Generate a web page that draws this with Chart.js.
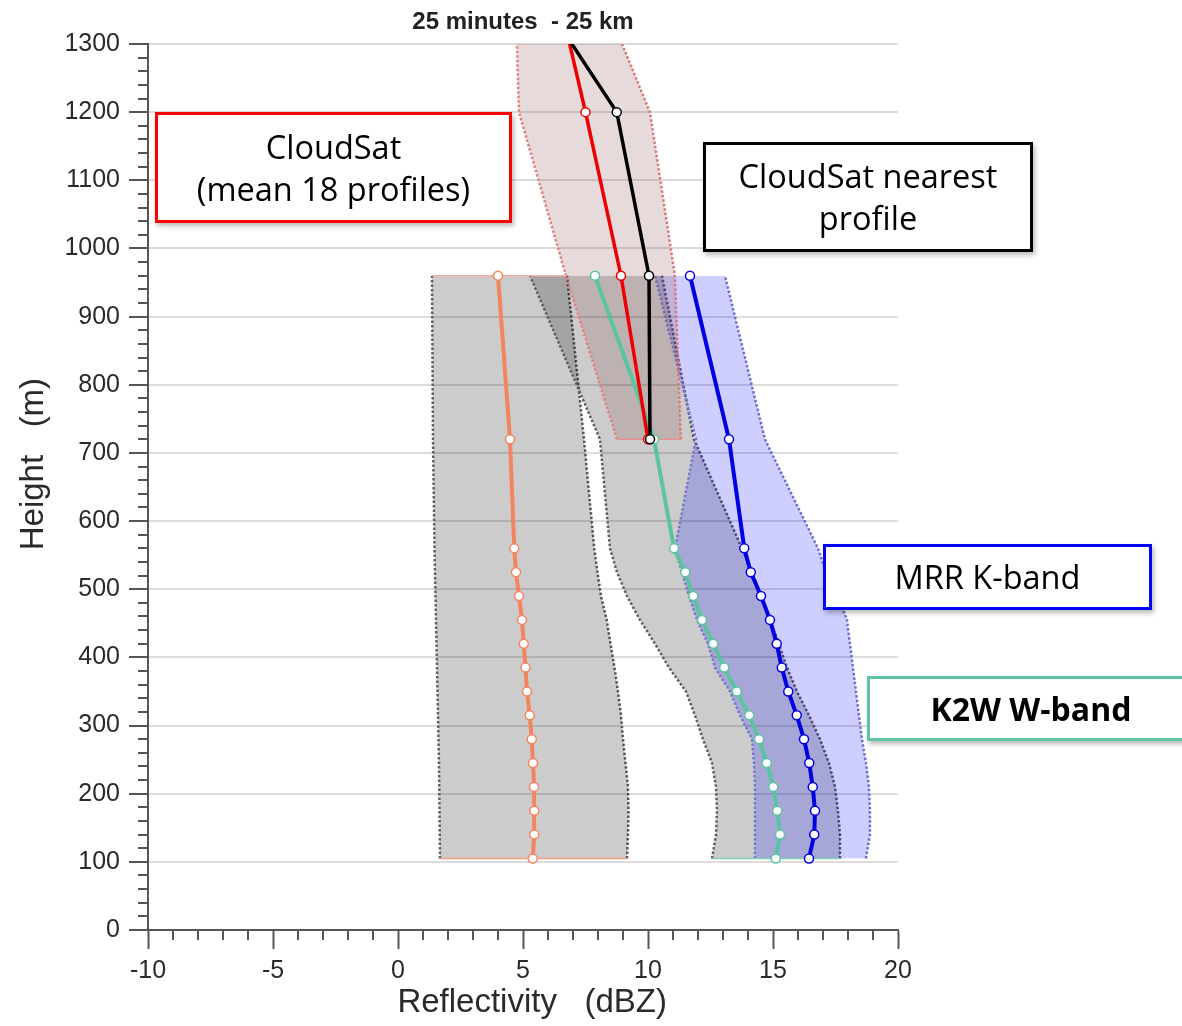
<!DOCTYPE html>
<html><head><meta charset="utf-8">
<script src="https://cdn.jsdelivr.net/npm/chart.js@4.4.1/dist/chart.umd.min.js"></script>
<style>
html,body{margin:0;padding:0;background:#fff;}
#wrap{position:relative;width:1182px;height:1026px;overflow:hidden;}
canvas{position:absolute;left:0;top:0;}
.box{position:absolute;background:#fff;box-sizing:border-box;display:flex;flex-direction:column;align-items:center;justify-content:center;font-family:"Open Sans",sans-serif;font-size:32.5px;line-height:42px;color:#000;box-shadow:2px 3px 5px rgba(0,0,0,0.28);text-align:center;white-space:nowrap;}
</style></head>
<body><div id="wrap"><canvas id="c" width="1182" height="1026"></canvas>
<div class="box" style="left:155px;top:112px;width:357px;height:111px;border:3px solid #ff0000;"><div>CloudSat</div><div>(mean 18 profiles)</div></div>
<div class="box" style="left:703px;top:142px;width:330px;height:110px;border:3.5px solid #000;"><div>CloudSat nearest</div><div>profile</div></div>
<div class="box" style="left:823px;top:544px;width:329px;height:66px;border:3.5px solid #0000ff;"><div>MRR K-band</div></div>
<div class="box" style="left:867px;top:676px;width:328px;height:65px;border:3px solid #5ec4a4;font-weight:bold;font-size:32px;"><div>K2W W-band</div></div>
</div>
<script>
// ---- data ----
const heights = [105,140,175,210,245,280,315,350,385,420,455,490,525,560,720,960];
const orangeVals = [5.39,5.45,5.45,5.44,5.40,5.35,5.27,5.16,5.10,5.03,4.96,4.84,4.72,4.65,4.48,4.00];
const orangeLo   = [1.68,1.67,1.66,1.65,1.64,1.62,1.60,1.58,1.56,1.54,1.52,1.50,1.48,1.46,1.40,1.36];
const orangeHi   = [9.16,9.20,9.22,9.20,9.10,9.00,8.92,8.80,8.66,8.50,8.35,8.12,7.98,7.85,7.44,6.76];
const greenVals  = [15.11,15.28,15.17,15.01,14.75,14.44,14.05,13.55,13.05,12.61,12.16,11.81,11.49,11.04,10.24,7.88];
const greenLo    = [12.56,12.72,12.76,12.72,12.56,12.20,11.88,11.52,10.84,10.28,9.68,9.16,8.76,8.48,8.08,5.28];
const greenHi    = [17.68,17.68,17.60,17.48,17.24,16.88,16.44,15.96,15.56,15.24,14.88,14.52,14.16,13.76,11.84,10.56];
const blueVals   = [16.44,16.65,16.68,16.59,16.45,16.24,15.95,15.61,15.35,15.15,14.88,14.52,14.11,13.85,13.24,11.68];
const blueLo     = [14.28,14.28,14.28,14.28,14.24,14.16,13.68,13.28,12.68,12.40,11.96,11.64,11.36,11.08,11.92,10.28];
const blueHi     = [18.72,18.88,18.88,18.84,18.72,18.56,18.44,18.32,18.20,18.08,17.96,17.60,17.12,16.80,14.68,13.08];
const csHeights  = [720,960,1200,1440];
const csMeanVals = [10.00,8.92,7.50,5.98];
const csNearVals = [10.08,10.04,8.75,4.44];
const csLo       = [8.76,6.72,4.84,4.64];
const csHi       = [11.32,11.08,10.08,7.40];
const xTickVals  = [-10,-5,0,5,10,15,20];
const yTickVals  = [0,100,200,300,400,500,600,700,800,900,1000,1100,1200,1300];
const xMinorStep = 1, yMinorStep = 20;

// ---- helpers ----
const pts = (xs, hs) => xs.map((x, i) => ({x: x, y: hs[i]}));
function series(label, xs, hs, color, w, extra) {
  return Object.assign({label, data: pts(xs, hs), borderColor: color, borderWidth: w,
    pointRadius: 4.5, pointBorderWidth: 1.5, pointBackgroundColor: '#fff', pointBorderColor: color,
    fill: false, tension: 0}, extra || {});
}
function edge(xs, hs, color, fillColor, extra) {
  return Object.assign({data: pts(xs, hs), borderColor: color, borderWidth: 2.5, borderDash: [2.5, 2],
    pointRadius: 0, fill: fillColor ? '+1' : false, backgroundColor: fillColor || 'transparent', tension: 0}, extra || {});
}
function cap(lo, hi, h, color) {
  return {data: [{x: lo, y: h}, {x: hi, y: h}], borderColor: color, borderWidth: 1.5, pointRadius: 0, fill: false};
}
const last = a => a[a.length - 1];

const FONT = '"Liberation Sans", Arial, sans-serif';
const datasets = [
  series('CloudSat nearest profile', csNearVals, csHeights, '#000000', 3.5, {clip: 0}),
  series('CloudSat mean', csMeanVals, csHeights, '#ee0000', 3.5, {clip: 0}),
  series('MRR K-band', blueVals, heights, '#0000e0', 4),
  series('K2W W-band', greenVals, heights, '#5cc3a0', 4),
  series('orange', orangeVals, heights, '#f4845f', 4),
  cap(orangeLo[0], orangeHi[0], heights[0], '#f4a080'),
  cap(last(orangeLo), last(orangeHi), last(heights), '#f0b0a0'),
  cap(greenLo[0], greenHi[0], heights[0], '#7fd0b5'),
  cap(csLo[0], csHi[0], csHeights[0], '#e59090'),
  edge(csLo, csHeights, '#e48080', 'rgba(120,60,60,0.19)', {clip: 0}),
  edge(csHi, csHeights, '#e48080', null, {clip: 0}),
  edge(blueLo, heights, '#7878cc', 'rgba(30,30,255,0.21)'),
  edge(blueHi, heights, '#7878cc', null),
  edge(greenLo, heights, '#606060', 'rgba(0,0,0,0.2)'),
  edge(greenHi, heights, '#606060', null),
  edge(orangeLo, heights, '#606060', 'rgba(0,0,0,0.2)'),
  edge(orangeHi, heights, '#606060', null)
];

const minorTicks = {
  id: 'minorTicks',
  afterDraw(chart) {
    const {ctx, scales: {x, y}} = chart;
    ctx.save();
    ctx.strokeStyle = '#555';
    ctx.lineWidth = 2;
    ctx.beginPath();
    for (let v = x.min; v <= x.max; v += xMinorStep) {
      if (xTickVals.includes(v)) continue;
      const px = Math.round(x.getPixelForValue(v));
      ctx.moveTo(px, x.top); ctx.lineTo(px, x.top + 10);
    }
    for (let v = y.min; v <= y.max; v += yMinorStep) {
      if (yTickVals.includes(v)) continue;
      const py = Math.round(y.getPixelForValue(v));
      ctx.moveTo(y.right - 10, py); ctx.lineTo(y.right, py);
    }
    ctx.stroke();
    ctx.restore();
  }
};

new Chart(document.getElementById('c'), {
  type: 'line',
  data: {datasets},
  plugins: [minorTicks],
  options: {
    indexAxis: 'y',
    responsive: false,
    animation: false,
    events: [],
    layout: {padding: {left: 0, right: 284, top: 0, bottom: 0}},
    plugins: {
      legend: {display: false},
      tooltip: {enabled: false},
      title: {display: true, text: '25 minutes  - 25 km', fullSize: false, color: '#222',
        font: {family: FONT, size: 24, weight: 'bold'}, padding: {top: 8, bottom: 7.2}}
    },
    scales: {
      x: {
        type: 'linear', position: 'bottom', min: -10, max: 20,
        afterBuildTicks: s => { s.ticks = xTickVals.map(v => ({value: v})); },
        afterFit: s => { s.height = 96; },
        grid: {drawOnChartArea: false, tickLength: 19, tickColor: '#555', tickWidth: 2},
        border: {color: '#555', width: 2},
        ticks: {font: {family: FONT, size: 25}, color: '#2a2a2a', padding: 7, maxRotation: 0, autoSkip: false,
          callback: v => String(v)},
        title: {display: true, text: '  Reflectivity   (dBZ)', color: '#2a2a2a', font: {family: FONT, size: 33}, padding: {top: 0, bottom: 3}}
      },
      y: {
        type: 'linear', position: 'left', min: 0, max: 1300,
        afterBuildTicks: s => { s.ticks = yTickVals.map(v => ({value: v})); },
        afterFit: s => { s.width = 148; },
        grid: {color: '#dcdcdc', lineWidth: 2, tickLength: 19, tickColor: '#555', tickWidth: 2},
        border: {color: '#555', width: 2},
        ticks: {font: {family: FONT, size: 25}, color: '#2a2a2a', padding: 9, autoSkip: false,
          callback: v => String(v)},
        title: {display: true, text: '     Height   (m)', color: '#2a2a2a', font: {family: FONT, size: 33}, padding: {top: 14, bottom: 0}}
      }
    }
  }
});
</script>
</body></html>
